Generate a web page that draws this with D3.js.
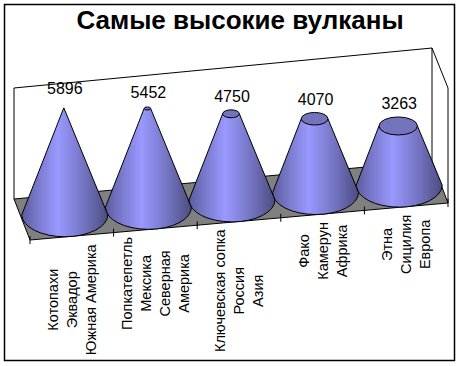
<!DOCTYPE html>
<head>
    <meta charset="utf-8">
    <title>Самые высокие вулканы</title>
    <style>
        body { margin: 0; background: #fff; }
        text { font-family: "Liberation Sans", Arial, sans-serif; fill: #000; }
    </style>
</head>
<body>
<svg width="459" height="366"></svg>

<script src="https://d3js.org/d3.v7.min.js"></script>
<script>
    const title = "Самые высокие вулканы";
    const volcanoes = ["Котопахи", "Попкатепетль", "Ключевская сопка", "Фако", "Этна"];
    const countries = ["Эквадор", "Мексика", "Россия", "Камерун", "Сицилия"];
    const continents = [["Южная Америка"], ["Северная", "Америка"], ["Азия"], ["Африка"], ["Европа"]];
    const heights = [5896, 5452, 4750, 4070, 3263];

    const svg = d3.select("svg");

    // the 3d box, front floor edge runs from frontLeft to frontRight
    const wallLeft = 14, wallRight = 432, frontLeft = 30, frontRight = 448;
    const floorBack = 199, floorFront = 240, floorFrontRight = 203, floorBackRight = 161;
    const topLeft = 88, topRight = 48;
    const slope = (floorFrontRight - floorFront) / (frontRight - frontLeft);
    const frontY = x => floorFront + slope * (x - frontLeft);

    const x = d3.scaleBand().domain(volcanoes).range([frontLeft, frontRight]);
    const h = d3.scaleLinear().domain([0, d3.max(heights)]).range([0, 107]);
    const baseR = 43, flatBase = 0.51, flatTop = 0.47;
    const r = d3.scaleLinear().domain([0, d3.max(heights)]).range([baseR, 0]);
    // value labels climb a little less than the cone bases do
    const labelY = d3.scaleLinear().domain([frontLeft, frontRight]).range([92.5, 111]);

    svg.append("rect").attr("x", 4.5).attr("y", 4.5).attr("width", 450).attr("height", 356)
        .attr("fill", "#fff").attr("stroke", "#000").attr("stroke-width", 1.5);

    svg.append("text").attr("x", 240).attr("y", 29).attr("text-anchor", "middle")
        .attr("font-size", 26).attr("font-weight", "bold").text(title);

    // walls
    const line = d3.line();
    svg.append("path")
        .attr("d", line([[wallLeft, floorBack], [wallLeft, topLeft], [wallRight, topRight], [wallRight, floorBackRight]]))
        .attr("fill", "none").attr("stroke", "#000");
    svg.append("path")
        .attr("d", line([[wallRight, topRight], [frontRight, topLeft], [frontRight, floorFrontRight]]))
        .attr("fill", "none").attr("stroke", "#000");

    // floor
    svg.append("path")
        .attr("d", line([[wallLeft, floorBack], [frontLeft, floorFront], [frontRight, floorFrontRight], [wallRight, floorBackRight]]) + "Z")
        .attr("fill", "#808080").attr("stroke", "#000");

    // ticks on the front edge
    const tickXs = x.domain().map(d => x(d)).concat(frontRight);
    svg.selectAll("line.tick").data(tickXs).enter().append("line")
        .attr("class", "tick")
        .attr("x1", d => d).attr("x2", d => d)
        .attr("y1", d => frontY(d) - 4).attr("y2", d => frontY(d) + 4)
        .attr("stroke", "#000");

    const defs = svg.append("defs");
    const grad = defs.append("linearGradient").attr("id", "coneFill");
    [[0, "#5c5c9c"], [0.15, "#7474c4"], [0.42, "#9999ff"], [0.75, "#7070bc"], [1, "#4c4c80"]].forEach(s => {
        grad.append("stop").attr("offset", s[0]).attr("stop-color", s[1]);
    });

    const rows = heights.map((v, i) => {
        const mid = x(volcanoes[i]) + x.bandwidth() / 2;
        const cx = mid - 7;
        const cy = frontY(mid) - 21.5;
        return { v, i, mid, cx, cy, top: cy - h(v), rt: r(v) };
    });

    // left cones overlap the right ones, so draw from the right
    const cones = svg.selectAll("g.cone").data(rows.slice().reverse()).enter().append("g").attr("class", "cone");

    cones.append("path")
        .attr("d", d => {
            const bl = [d.cx - baseR, d.cy], br = [d.cx + baseR, d.cy];
            const tl = [d.cx - 1 - d.rt, d.top], tr = [d.cx - 1 + d.rt, d.top];
            return `M${bl}A${baseR},${baseR * flatBase} 0 0 0 ${br}L${tr}L${tl}Z`;
        })
        .attr("fill", "url(#coneFill)").attr("stroke", "#000");

    cones.filter(d => d.rt > 0).append("ellipse")
        .attr("cx", d => d.cx - 1).attr("cy", d => d.top)
        .attr("rx", d => d.rt).attr("ry", d => d.rt * flatTop)
        .attr("fill", "#7474bc").attr("stroke", "#000");

    svg.selectAll("text.value").data(rows).enter().append("text")
        .attr("class", "value")
        .attr("x", d => d.cx)
        .attr("y", d => labelY(d.mid))
        .attr("text-anchor", "middle").attr("font-size", 16)
        .text(d => d.v);

    // rotated category labels, the longest line starts just under the floor edge
    const lineGap = 19;
    rows.forEach(d => {
        const lines = [volcanoes[d.i], countries[d.i]].concat(continents[d.i]);
        const g = svg.append("g");
        const t = g.selectAll("text").data(lines).enter().append("text")
            .attr("text-anchor", "middle").attr("font-size", 14.5).text(s => s);
        const longest = d3.max(t.nodes(), n => n.getComputedTextLength());
        const cy = frontY(d.mid) + 8 + longest / 2;
        t.attr("transform", (s, j) => {
            const lx = d.mid + (j - (lines.length - 1) / 2) * lineGap + 5;
            return `translate(${lx},${cy}) rotate(-90)`;
        });
    });
</script>
</body>
